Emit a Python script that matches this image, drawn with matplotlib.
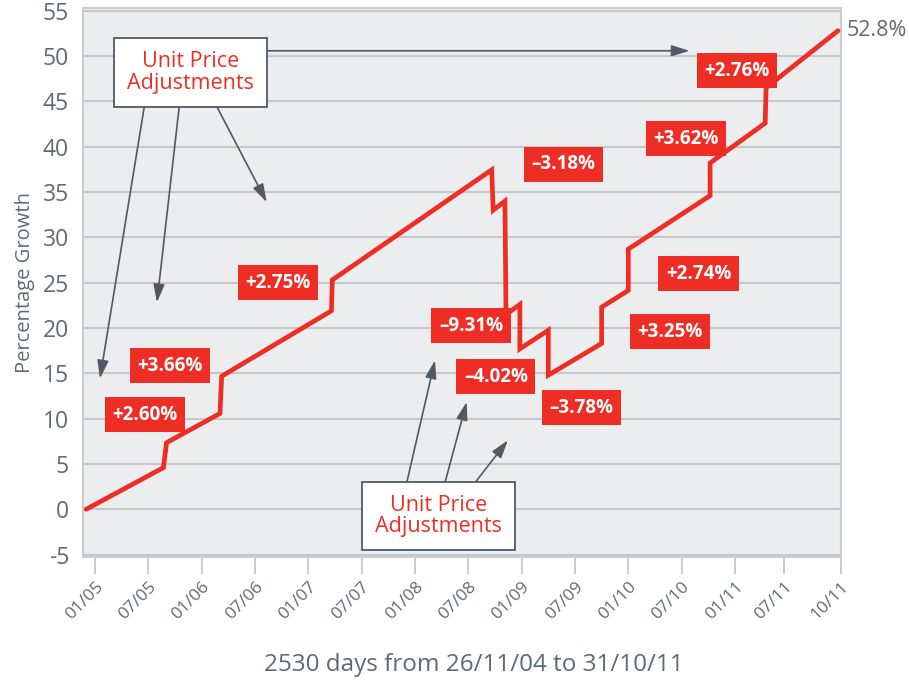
import matplotlib
matplotlib.use("Agg")
import matplotlib.pyplot as plt

plt.rcParams['font.family'] = ['Open Sans', 'DejaVu Sans']

# ---- data (x in months since 01/2005, y in percentage growth) ----
line_x = [-1.0, 7.7, 8.05, 14.06, 14.25, 26.6, 26.7, 44.63, 44.8, 46.12, 46.24,
          47.8, 47.8, 51.0, 51.0, 57.0, 57.0, 60.0, 60.0, 69.2, 69.2, 75.4, 75.5, 83.6]
line_y = [0.0, 4.6, 7.35, 10.57, 14.68, 21.9, 25.3, 37.45, 33.0, 34.0, 21.5,
          22.6, 17.7, 19.75, 14.8, 18.3, 22.3, 24.15, 28.7, 34.6, 38.2, 42.6, 46.5, 52.8]

final_label = "52.8%"

adj_labels = ["+2.60%", "+3.66%", "+2.75%", "\u20139.31%", "\u20134.02%", "\u20133.78%",
              "\u20133.18%", "+3.25%", "+2.74%", "+3.62%", "+2.76%"]
adj_x = [5.62, 8.44, 20.6, 42.3, 45.1, 54.7, 52.7, 64.7, 67.9, 66.5, 72.2]
adj_y = [10.44, 15.84, 25.0, 20.26, 14.6, 11.2, 38.06, 19.6, 26.0, 40.86, 48.4]

callout_text = "Unit Price\nAdjustments"
callout_x = [10.78, 38.62]
callout_y = [48.18, -0.74]

# arrows: start point and tip
arrow_sx = [5.55, 9.48, 13.69, 19.32, 35.07, 39.37, 42.75]
arrow_sy = [44.45, 44.45, 44.45, 50.58, 2.93, 2.93, 2.93]
arrow_tx = [0.56, 6.97, 19.32, 66.9, 38.25, 41.82, 46.46]
arrow_ty = [14.43, 22.83, 33.88, 50.58, 16.44, 11.85, 7.63]

tick_pos = [0, 6, 12, 18, 24, 30, 36, 42, 48, 54, 60, 66, 72, 77.55, 83.93]
tick_labels = ["01/05", "07/05", "01/06", "07/06", "01/07", "07/07", "01/08", "07/08",
               "01/09", "07/09", "01/10", "07/10", "01/11", "07/11", "10/11"]
y_ticks = list(range(-5, 56, 5))

xlabel = "2530 days from 26/11/04 to 31/10/11"
ylabel = "Percentage Growth"

# ---- style ----
RED = "#EE2E24"
SLATE = "#4E5B67"
GRAYTXT = "#5E6A75"
GRID = "#C4C8CD"
BG = "#ECEDEF"

fig = plt.figure(figsize=(9.09, 6.82), dpi=100)
ax = fig.add_axes([83/909, 1-557/682, (841-83)/909, (557-8)/682])
ax.set_facecolor(BG)
ax.set_xlim(-1.35, 83.93)
ax.set_ylim(-5.26, 55.3)

ax.set_yticks(y_ticks)
ax.set_yticklabels([str(v) for v in y_ticks])
ax.yaxis.grid(True, color=GRID, linewidth=1.5)
ax.set_axisbelow(True)
ax.tick_params(axis='y', length=0, pad=10, labelsize=16.5, labelcolor=GRAYTXT)

ax.set_xticks(tick_pos)
ax.set_xticklabels(tick_labels, rotation=45, ha='right', rotation_mode='anchor')
ax.tick_params(axis='x', length=12, width=1.3, color="#C4C8CD", pad=4,
               labelsize=12.5, labelcolor=GRAYTXT)

for s in ax.spines.values():
    s.set_color("#C9CCD1")
    s.set_linewidth(1.5)

ax.plot(line_x, line_y, color=RED, linewidth=3.4, solid_joinstyle='miter',
        solid_capstyle='round', zorder=3)

ax.text(line_x[-1] + 1.0, line_y[-1], final_label, fontsize=15.5, color=GRAYTXT,
        ha='left', va='center', clip_on=False)

for lab, x, y in zip(adj_labels, adj_x, adj_y):
    ax.text(x, y, lab, ha='center', va='center', color='white', fontsize=13.5,
            fontweight='bold', zorder=5,
            bbox=dict(boxstyle='square,pad=0.4', fc=RED, ec='none'))

for sx, sy, tx, ty in zip(arrow_sx, arrow_sy, arrow_tx, arrow_ty):
    ax.annotate("", xy=(tx, ty), xytext=(sx, sy),
                arrowprops=dict(arrowstyle="-|>,head_length=0.55,head_width=0.17",
                                color=SLATE, lw=1.2, shrinkA=0, shrinkB=0,
                                mutation_scale=20),
                zorder=4)

for x, y in zip(callout_x, callout_y):
    ax.text(x, y, callout_text, ha='center', va='center', color=RED, fontsize=15.5,
            linespacing=1.05, zorder=6,
            bbox=dict(boxstyle='square,pad=0.6', fc='white', ec=SLATE, lw=1.3))

ax.set_ylabel(ylabel, fontsize=14.5, color=GRAYTXT, labelpad=6)
fig.text(0.5 * (258 + 690) / 909, 1 - 665/682, xlabel, fontsize=17.5, color=GRAYTXT,
         ha='center', va='center')

fig.savefig("out.png", dpi=100, facecolor='white')
